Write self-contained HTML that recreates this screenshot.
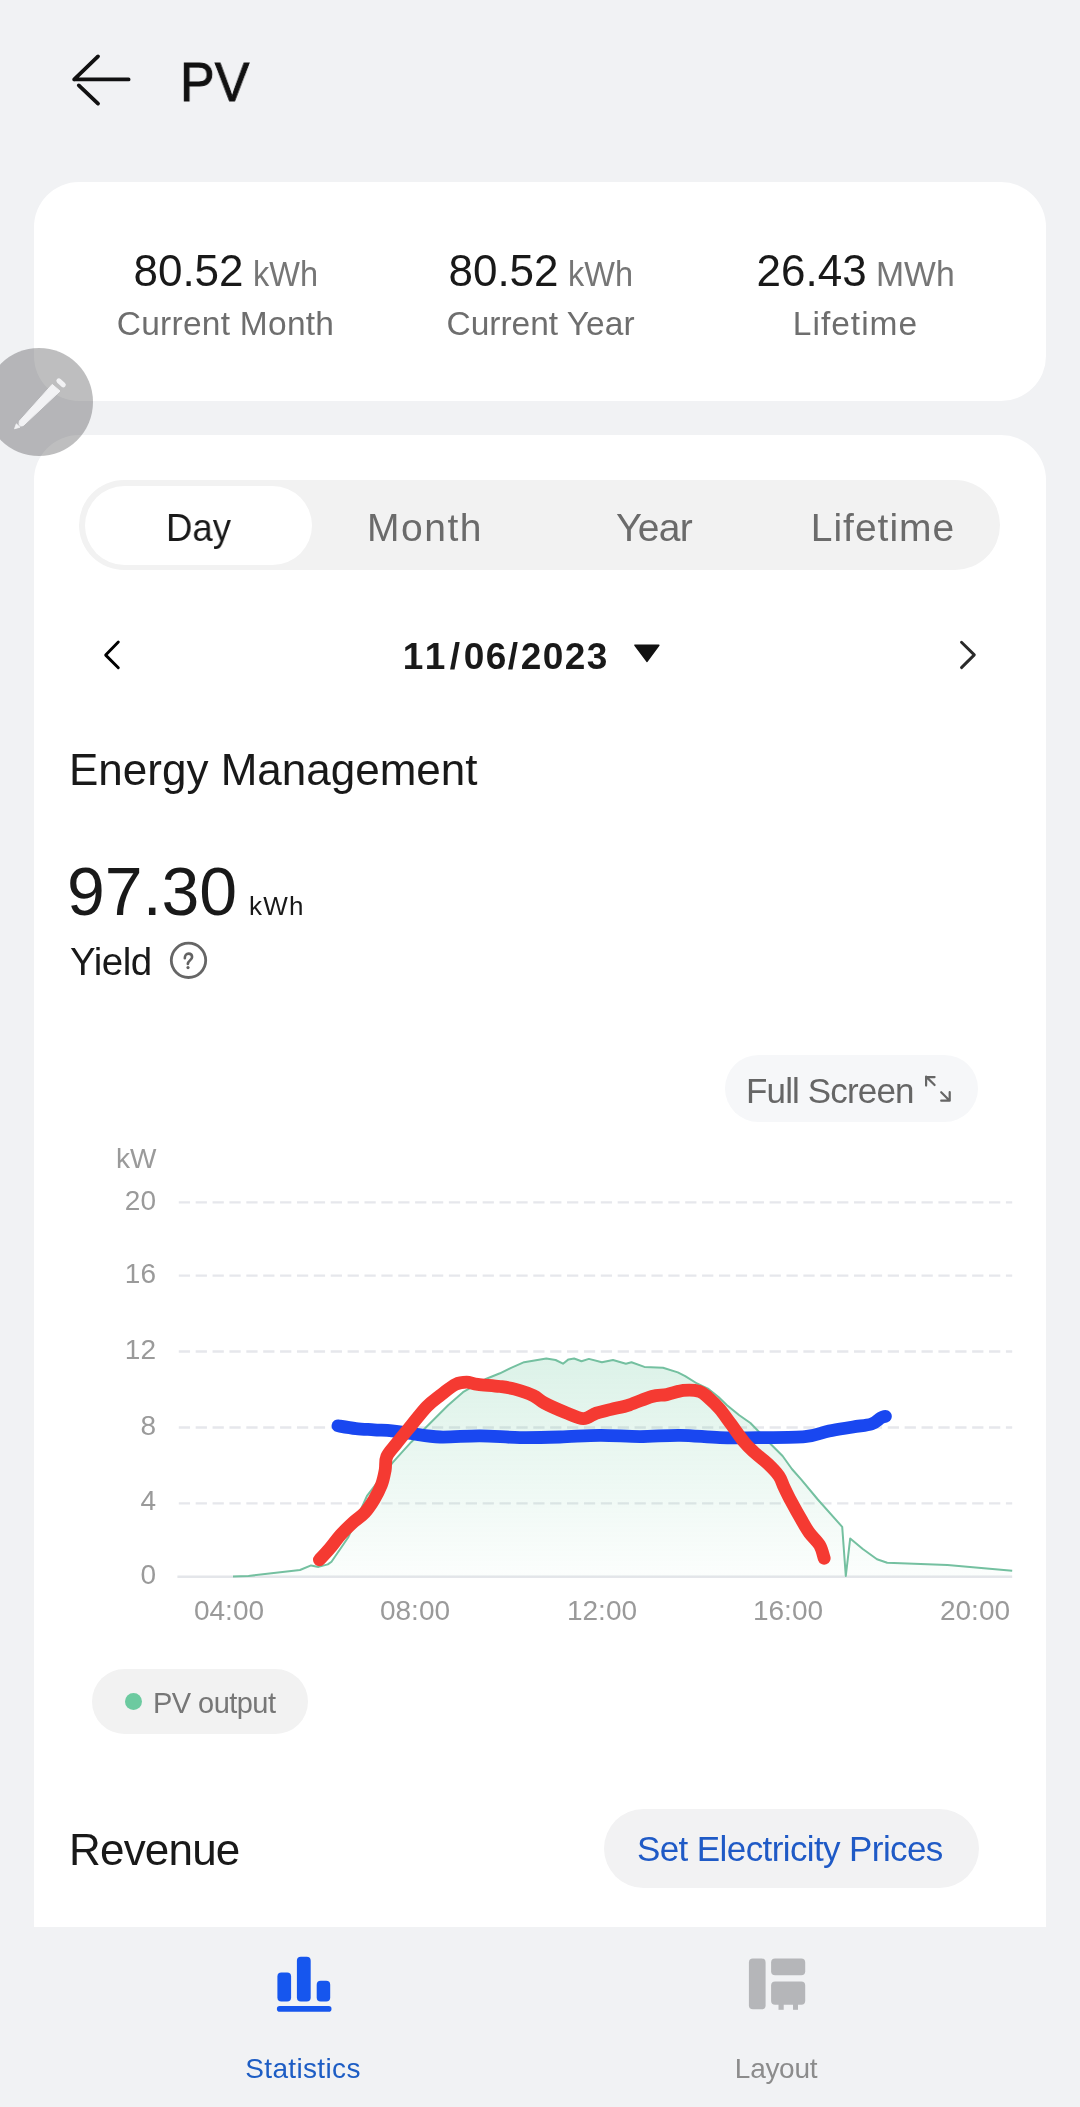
<!DOCTYPE html>
<html><head><meta charset="utf-8">
<style>
html,body{margin:0;padding:0;}
body{width:1080px;height:2107px;overflow:hidden;background:#f1f2f4;position:relative;font-family:"Liberation Sans",sans-serif;color:#191919;}
.a{position:absolute;}
.t{position:absolute;line-height:1;white-space:nowrap;will-change:transform;}
.card{position:absolute;background:#fff;}
</style></head><body>

<!-- header -->
<svg class="a" style="left:0;top:0" width="300" height="140">
  <path d="M128.6 79.4 H74.2 M98 56.4 L74.2 79.4 M78.8 85.4 L98 103.6" fill="none" stroke="#111" stroke-width="3.8" stroke-linecap="round" stroke-linejoin="round"/>
</svg>
<div class="t" style="left:179.5px;top:55px;font-size:55px;color:#111;transform:scaleX(0.945);transform-origin:0 0;-webkit-text-stroke:0.9px #111;">PV</div>

<!-- stats card -->
<div class="card" style="left:34px;top:182px;width:1012px;height:219px;border-radius:45px;"></div>
<div class="t" style="left:67.5px;width:315px;top:248.6px;text-align:center;font-size:44px;">80.52<span style="display:inline-block;font-size:35.5px;color:#767676;margin-left:9px;transform:scaleX(0.915);transform-origin:0 0;margin-right:-6px">kWh</span></div>
<div class="t" style="left:382.5px;width:315px;top:248.6px;text-align:center;font-size:44px;">80.52<span style="display:inline-block;font-size:35.5px;color:#767676;margin-left:9px;transform:scaleX(0.915);transform-origin:0 0;margin-right:-6px">kWh</span></div>
<div class="t" style="left:697.5px;width:315px;top:248.6px;text-align:center;font-size:44px;">26.43<span style="display:inline-block;font-size:35.5px;color:#767676;margin-left:9px;transform:scaleX(0.95);transform-origin:0 0;margin-right:-4.1px">MWh</span></div>
<div class="t" style="left:67.5px;width:315px;top:306.6px;text-align:center;font-size:33.5px;color:#6e6e6e;letter-spacing:0.26px;">Current Month</div>
<div class="t" style="left:382.5px;width:315px;top:306.6px;text-align:center;font-size:33.5px;color:#6e6e6e;letter-spacing:0px;">Current Year</div>
<div class="t" style="left:697.5px;width:315px;top:306.6px;text-align:center;font-size:33.5px;color:#6e6e6e;letter-spacing:1px;">Lifetime</div>

<!-- main card -->
<div class="card" style="left:34px;top:435px;width:1012px;height:1492px;border-radius:45px 45px 0 0;"></div>

<!-- segmented control -->
<div class="a" style="left:79px;top:480px;width:921px;height:90px;border-radius:45px;background:#f2f2f2;"></div>
<div class="a" style="left:85px;top:486px;width:227px;height:79px;border-radius:39.5px;background:#fff;"></div>
<div class="t" style="left:85px;width:227px;top:508px;text-align:center;font-size:39px;color:#191919;transform:scaleX(0.934);">Day</div>
<div class="t" style="left:310px;width:230px;top:508px;text-align:center;font-size:39px;color:#6b6b6b;letter-spacing:1.5px;">Month</div>
<div class="t" style="left:539px;width:230px;top:508px;text-align:center;font-size:39px;color:#6b6b6b;letter-spacing:-0.7px;">Year</div>
<div class="t" style="left:768px;width:230px;top:508px;text-align:center;font-size:39px;color:#6b6b6b;letter-spacing:1px;">Lifetime</div>

<!-- date nav -->
<svg class="a" style="left:0;top:620px" width="1080" height="70">
  <path d="M118.3 22.1 L105.7 35.1 L118.3 47.7" fill="none" stroke="#000" stroke-width="2.9" stroke-linecap="round" stroke-linejoin="round"/>
  <path d="M961.5 22.3 L974.3 34.9 L961.5 47.6" fill="none" stroke="#2a2a2a" stroke-width="2.9" stroke-linecap="round" stroke-linejoin="round"/>
  <path d="M635 25.2 L658.8 25.2 L647 41.3 Z" fill="#111" stroke="#111" stroke-width="1.6" stroke-linejoin="round"/>
</svg>
<div class="t" style="left:393.2px;width:40px;text-align:center;top:638.4px;font-size:37px;font-weight:bold;color:#191919;">1</div><div class="t" style="left:415.3px;width:40px;text-align:center;top:638.4px;font-size:37px;font-weight:bold;color:#191919;">1</div><div class="t" style="left:435.0px;width:40px;text-align:center;top:638.4px;font-size:37px;font-weight:bold;color:#191919;">/</div><div class="t" style="left:453.6px;width:40px;text-align:center;top:638.4px;font-size:37px;font-weight:bold;color:#191919;">0</div><div class="t" style="left:476.4px;width:40px;text-align:center;top:638.4px;font-size:37px;font-weight:bold;color:#191919;">6</div><div class="t" style="left:493.0px;width:40px;text-align:center;top:638.4px;font-size:37px;font-weight:bold;color:#191919;">/</div><div class="t" style="left:511.4px;width:40px;text-align:center;top:638.4px;font-size:37px;font-weight:bold;color:#191919;">2</div><div class="t" style="left:533.3px;width:40px;text-align:center;top:638.4px;font-size:37px;font-weight:bold;color:#191919;">0</div><div class="t" style="left:555.3px;width:40px;text-align:center;top:638.4px;font-size:37px;font-weight:bold;color:#191919;">2</div><div class="t" style="left:577.3px;width:40px;text-align:center;top:638.4px;font-size:37px;font-weight:bold;color:#191919;">3</div>

<!-- Energy management -->
<div class="t" style="left:68.5px;top:747.8px;font-size:44px;">Energy Management</div>
<div class="t" style="left:67px;top:857.4px;font-size:68px;">97.30</div>
<div class="t" style="left:249px;top:893px;font-size:26px;letter-spacing:1.2px;">kWh</div>
<div class="t" style="left:70px;top:943.4px;font-size:38.5px;letter-spacing:-0.5px;">Yield</div>
<svg class="a" style="left:165px;top:936px" width="48" height="48">
  <circle cx="23.5" cy="24.3" r="17.2" fill="none" stroke="#666" stroke-width="2.8"/>
  <path d="M19.8 22.2 C19.8 19.3 21.5 17.6 23.5 17.6 C25.6 17.6 27.1 19.1 27.1 21.1 C27.1 23.9 23.2 24.4 22.8 28" fill="none" stroke="#626262" stroke-width="2.6" stroke-linecap="round"/><circle cx="23" cy="31.6" r="1.6" fill="#626262"/>
</svg>

<!-- full screen -->
<div class="a" style="left:725px;top:1055px;width:253px;height:67px;border-radius:34px;background:#f6f7f9;"></div>
<div class="t" style="left:746px;top:1072.9px;font-size:35px;color:#666;letter-spacing:-0.85px;">Full Screen</div>
<svg class="a" style="left:920px;top:1070px" width="40" height="40">
  <path d="M14.6 15 L6.1 6.6 M14.6 7.1 H6.1 V15.6 M21.2 22.2 L29.7 30.7 M21.2 30.7 H29.7 V22.2" fill="none" stroke="#666" stroke-width="2.2" stroke-linecap="round" stroke-linejoin="round"/>
</svg>

<!-- chart placeholder -->
<svg class="a" style="left:0;top:1130px;will-change:transform" width="1080" height="520" viewBox="0 1130 1080 520">
  <defs><linearGradient id="gf" x1="0" y1="1358" x2="0" y2="1577" gradientUnits="userSpaceOnUse">
    <stop offset="0" stop-color="#50be8c" stop-opacity="0.2"/><stop offset="1" stop-color="#50be8c" stop-opacity="0.02"/></linearGradient></defs>
  <g stroke="#e6e7ec" stroke-width="2.3" stroke-dasharray="11.25 5.63" fill="none">
    <path d="M178.8 1202.3 H1012.2"/><path d="M178.8 1275.6 H1012.2"/><path d="M178.8 1351.5 H1012.2"/><path d="M178.8 1427.5 H1012.2"/><path d="M178.8 1503.4 H1012.2"/>
  </g>
  <path d="M177.4 1576.7 H1012.2" stroke="#e4e6ea" stroke-width="2.6"/>
  <path d="M233.0 1576.5 L248.5 1576.0 L300.0 1570.0 L311.1 1565.4 L318.5 1566.9 L327.8 1564.4 L331.5 1561.7 L348.1 1537.5 L367.0 1495.8 L392.6 1462.6 L411.1 1442.2 L429.6 1423.7 L448.1 1405.2 L463.0 1392.2 L485.2 1379.3 L500.0 1373.3 L511.1 1367.8 L524.1 1362.2 L546.3 1358.5 L555.6 1360.0 L563.0 1363.7 L568.5 1359.4 L574.1 1358.5 L581.5 1361.3 L588.9 1358.9 L601.9 1362.2 L613.0 1360.0 L625.9 1363.7 L631.5 1362.2 L644.4 1366.9 L663.0 1367.8 L677.8 1372.4 L685.2 1376.1 L697.0 1383.5 L708.5 1389.0 L718.5 1397.0 L727.0 1405.2 L739.3 1415.2 L750.4 1423.0 L764.1 1437.0 L771.1 1444.5 L782.6 1456.0 L791.9 1469.0 L801.1 1479.3 L817.8 1499.5 L842.2 1526.8 L845.8 1576.0 L850.2 1538.4 L862.8 1549.0 L877.0 1559.3 L887.2 1562.7 L947.4 1565.0 L1012.2 1570.7 L1012.2 1576.5 L233 1576.5 Z" fill="url(#gf)"/>
  <path d="M233.0 1576.5 L248.5 1576.0 L300.0 1570.0 L311.1 1565.4 L318.5 1566.9 L327.8 1564.4 L331.5 1561.7 L348.1 1537.5 L367.0 1495.8 L392.6 1462.6 L411.1 1442.2 L429.6 1423.7 L448.1 1405.2 L463.0 1392.2 L485.2 1379.3 L500.0 1373.3 L511.1 1367.8 L524.1 1362.2 L546.3 1358.5 L555.6 1360.0 L563.0 1363.7 L568.5 1359.4 L574.1 1358.5 L581.5 1361.3 L588.9 1358.9 L601.9 1362.2 L613.0 1360.0 L625.9 1363.7 L631.5 1362.2 L644.4 1366.9 L663.0 1367.8 L677.8 1372.4 L685.2 1376.1 L697.0 1383.5 L708.5 1389.0 L718.5 1397.0 L727.0 1405.2 L739.3 1415.2 L750.4 1423.0 L764.1 1437.0 L771.1 1444.5 L782.6 1456.0 L791.9 1469.0 L801.1 1479.3 L817.8 1499.5 L842.2 1526.8 L845.8 1576.0 L850.2 1538.4 L862.8 1549.0 L877.0 1559.3 L887.2 1562.7 L947.4 1565.0 L1012.2 1570.7" fill="none" stroke="#74c0a0" stroke-width="2" stroke-linejoin="round"/>
  <path d="M338.0 1425.8 C341.0 1426.3 350.0 1427.9 356.0 1428.6 C362.0 1429.3 368.0 1429.4 374.0 1429.8 C380.0 1430.2 385.8 1430.2 392.0 1430.8 C398.2 1431.4 403.0 1432.5 411.0 1433.5 C419.0 1434.5 428.5 1436.6 440.0 1437.0 C451.5 1437.4 466.7 1435.7 480.0 1435.8 C493.3 1435.9 506.7 1437.4 520.0 1437.6 C533.3 1437.8 546.7 1437.4 560.0 1437.0 C573.3 1436.6 586.7 1435.4 600.0 1435.3 C613.3 1435.2 626.7 1436.6 640.0 1436.6 C653.3 1436.6 666.7 1435.1 680.0 1435.3 C693.3 1435.5 706.7 1437.2 720.0 1437.6 C733.3 1438.0 745.8 1437.8 760.0 1437.6 C774.2 1437.4 793.5 1437.8 805.0 1436.7 C816.5 1435.6 821.0 1432.6 829.0 1431.0 C837.0 1429.4 845.9 1428.2 853.0 1427.0 C860.1 1425.8 866.9 1425.5 871.5 1424.0 C876.1 1422.5 878.4 1419.3 880.7 1418.0 C883.0 1416.7 884.6 1416.6 885.4 1416.3" fill="none" stroke="#1947f0" stroke-width="12.8" stroke-linecap="round" stroke-linejoin="round"/>
  <path d="M319.4 1559.8 C321.1 1558.0 326.1 1552.9 329.6 1548.7 C333.2 1544.5 336.7 1539.3 340.7 1534.8 C344.7 1530.3 349.7 1525.6 353.7 1521.9 C357.7 1518.2 361.4 1516.3 364.8 1512.6 C368.2 1508.9 371.3 1504.2 374.1 1499.6 C376.9 1495.0 379.6 1489.7 381.5 1484.8 C383.4 1479.9 384.3 1474.7 385.2 1470.0 C386.1 1465.3 384.8 1461.2 386.7 1456.7 C388.6 1452.2 392.6 1448.5 396.7 1443.3 C400.8 1438.1 406.1 1431.7 411.1 1425.6 C416.1 1419.5 421.9 1411.7 426.7 1406.7 C431.5 1401.7 435.2 1399.3 440.0 1395.6 C444.8 1391.9 451.2 1386.6 455.6 1384.4 C460.1 1382.2 463.0 1382.2 466.7 1382.2 C470.4 1382.2 472.2 1383.7 477.8 1384.4 C483.4 1385.1 493.8 1385.7 500.0 1386.5 C506.2 1387.3 509.2 1387.6 514.8 1389.1 C520.3 1390.6 528.4 1393.3 533.3 1395.6 C538.2 1397.9 539.1 1400.2 544.4 1403.0 C549.6 1405.8 558.3 1409.6 564.8 1412.2 C571.3 1414.8 578.0 1418.6 583.3 1418.7 C588.5 1418.8 591.7 1414.6 596.3 1413.1 C600.9 1411.5 605.5 1410.8 611.1 1409.4 C616.7 1408.0 622.8 1407.0 629.6 1404.8 C636.4 1402.6 645.7 1398.2 651.9 1396.5 C658.1 1394.8 661.5 1395.6 666.7 1394.6 C671.9 1393.6 677.9 1391.0 683.3 1390.4 C688.7 1389.9 695.1 1390.1 699.3 1391.3 C703.5 1392.5 705.1 1394.9 708.5 1397.8 C711.9 1400.7 715.9 1404.6 719.6 1408.9 C723.3 1413.2 726.6 1418.2 730.7 1423.7 C734.8 1429.2 740.2 1437.2 744.3 1442.2 C748.4 1447.2 751.6 1449.8 755.5 1453.4 C759.4 1457.0 763.8 1459.9 767.7 1463.6 C771.6 1467.3 776.2 1471.9 778.9 1475.8 C781.6 1479.7 782.0 1482.8 784.0 1487.0 C786.0 1491.2 788.2 1495.9 791.1 1501.3 C794.0 1506.7 798.2 1514.3 801.3 1519.6 C804.3 1524.9 806.3 1528.7 809.4 1532.9 C812.5 1537.2 817.1 1540.9 819.6 1545.1 C822.1 1549.3 823.4 1556.1 824.2 1558.3" fill="none" stroke="#f53a32" stroke-width="12.8" stroke-linecap="round" stroke-linejoin="round"/>
  <g font-family="Liberation Sans" font-size="28" fill="#9a9a9a">
    <text x="116" y="1168">kW</text>
    <text x="156" y="1209.7" text-anchor="end">20</text>
    <text x="156" y="1283" text-anchor="end">16</text>
    <text x="156" y="1358.9" text-anchor="end">12</text>
    <text x="156" y="1434.9" text-anchor="end">8</text>
    <text x="156" y="1510" text-anchor="end">4</text>
    <text x="156" y="1584.2" text-anchor="end">0</text>
    <text x="229" y="1620" text-anchor="middle">04:00</text>
    <text x="415" y="1620" text-anchor="middle">08:00</text>
    <text x="602" y="1620" text-anchor="middle">12:00</text>
    <text x="788" y="1620" text-anchor="middle">16:00</text>
    <text x="975" y="1620" text-anchor="middle">20:00</text>
  </g>
</svg>

<!-- legend -->
<div class="a" style="left:92px;top:1669px;width:216px;height:65px;border-radius:33px;background:#f2f2f2;"></div>
<div class="a" style="left:124.8px;top:1692.6px;width:17px;height:17px;border-radius:50%;background:#6ccaa0;"></div>
<div class="t" style="left:153px;top:1688.5px;font-size:29px;color:#777;letter-spacing:-0.55px;">PV output</div>

<!-- revenue -->
<div class="t" style="left:68.5px;top:1828.3px;font-size:44px;letter-spacing:-0.8px;">Revenue</div>
<div class="a" style="left:603.5px;top:1809px;width:375px;height:79px;border-radius:39.5px;background:#f2f2f3;"></div>
<div class="t" style="left:636.6px;top:1830.9px;font-size:35px;color:#1f5ac6;letter-spacing:-0.6px;">Set Electricity Prices</div>

<!-- bottom nav -->
<svg class="a" style="left:260px;top:1940px" width="90" height="80">
  <rect x="17.4" y="32.4" width="13.7" height="29.1" rx="4" fill="#1656ee"/>
  <rect x="36.9" y="16.7" width="13.8" height="44.8" rx="4" fill="#1656ee"/>
  <rect x="56.7" y="40.7" width="13.5" height="20.8" rx="4" fill="#1656ee"/>
  <rect x="16.9" y="66" width="54.6" height="5.7" rx="2.8" fill="#1656ee"/>
</svg>
<div class="t" style="left:203px;width:200px;top:2055.3px;text-align:center;font-size:28px;color:#1d5dc4;letter-spacing:0.35px;">Statistics</div>
<svg class="a" style="left:730px;top:1940px" width="90" height="80">
  <rect x="18.9" y="18.5" width="16.7" height="50.8" rx="4" fill="#b5b6b9"/>
  <rect x="41.1" y="18.5" width="34.1" height="16.7" rx="4" fill="#b5b6b9"/>
  <rect x="41.1" y="41.5" width="34.1" height="23.3" rx="4" fill="#b5b6b9"/>
  <rect x="48.5" y="62" width="5.2" height="7.8" fill="#b5b6b9"/>
  <rect x="63" y="62" width="5" height="7.8" fill="#b5b6b9"/>
</svg>
<div class="t" style="left:675.5px;width:200px;top:2055.3px;text-align:center;font-size:28px;color:#8c8c8c;letter-spacing:-0.3px;">Layout</div>

<!-- edit FAB -->
<div class="a" style="left:-15px;top:348px;width:108px;height:108px;border-radius:50%;background:rgba(70,70,72,0.35);"></div>
<svg class="a" style="left:0;top:360px" width="90" height="90">
  <path d="M19.4 61.1 L52.2 24.4 L60 31.1 L23.3 65.6 Q20 67 19 64.5 Z" fill="#f2f2f4" stroke="#f2f2f4" stroke-width="1" stroke-linejoin="round"/>
  <path d="M58.9 20.8 L63.3 24.8" stroke="#f2f2f4" stroke-width="5" stroke-linecap="round"/>
  <path d="M14.5 68.8 L16.3 63.8 L20 67.2 Z" fill="#f2f2f4" stroke="#f2f2f4" stroke-width="0.8" stroke-linejoin="round"/>
</svg>

</body></html>
